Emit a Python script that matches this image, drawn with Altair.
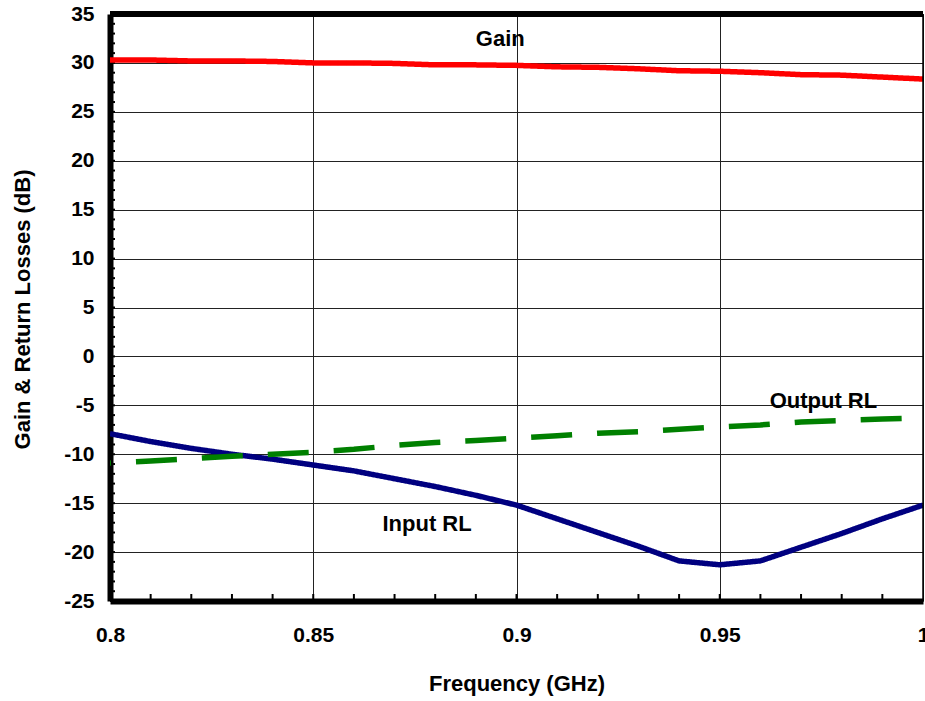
import altair as alt
import pandas as pd

# ---- data ----
freq = [0.80, 0.81, 0.82, 0.83, 0.84, 0.85, 0.86, 0.87, 0.88, 0.89, 0.90,
        0.91, 0.92, 0.93, 0.94, 0.95, 0.96, 0.97, 0.98, 0.99, 1.00]
gain = [30.3, 30.3, 30.2, 30.2, 30.15, 30.0, 30.0, 29.95, 29.8, 29.8, 29.75,
        29.6, 29.55, 29.4, 29.2, 29.15, 29.0, 28.8, 28.75, 28.55, 28.35]
input_rl = [-7.9, -8.7, -9.4, -10.0, -10.5, -11.1, -11.7, -12.5, -13.3, -14.2, -15.2,
            -16.6, -18.0, -19.4, -20.9, -21.3, -20.9, -19.5, -18.1, -16.6, -15.2]
output_rl = [-10.9, -10.7, -10.45, -10.2, -10.0, -9.8, -9.5, -9.1, -8.8, -8.6, -8.35,
             -8.1, -7.85, -7.7, -7.45, -7.2, -7.0, -6.7, -6.55, -6.4, -6.3]

series_names = ["Gain", "Input RL", "Output RL"]
series_colors = ["#ff0000", "#000080", "#008000"]

x_ticks = [0.8, 0.85, 0.9, 0.95, 1.0]
y_ticks = [-25, -20, -15, -10, -5, 0, 5, 10, 15, 20, 25, 30, 35]
x_minor = [0.81, 0.82, 0.83, 0.84, 0.85, 0.86, 0.87, 0.88, 0.89, 0.90,
           0.91, 0.92, 0.93, 0.94, 0.95, 0.96, 0.97, 0.98, 0.99]
y_minor = list(range(-25, 36))

label_text = ["Gain", "Output RL", "Input RL"]
label_x = [0.896, 0.9755, 0.878]
label_y = [32.4, -4.6, -17.1]

FONT = "Liberation Sans"

rows = []
for name, vals in zip(series_names, [gain, input_rl, output_rl]):
    for f, v in zip(freq, vals):
        rows.append({"freq": f, "value": v, "series": name})
df = pd.DataFrame(rows)

xscale = alt.Scale(domain=[0.8, 1.0], nice=False, zero=False)
yscale = alt.Scale(domain=[-25, 35], nice=False, zero=False)

xaxis = alt.Axis(values=x_ticks, format=".2~f", grid=True, gridColor="#222222", gridWidth=1,
                 ticks=False, domainWidth=6, domainColor="black",
                 labelFont=FONT, labelFontSize=21, labelFontWeight="bold", labelColor="black",
                 labelPadding=23, labelFlush=False,
                 title="Frequency (GHz)", titleFont=FONT, titleFontSize=22, titleFontWeight="bold",
                 titleColor="black", titlePadding=28)
yaxis = alt.Axis(values=y_ticks, grid=True, gridColor="#222222", gridWidth=1,
                 ticks=False, domainWidth=6, domainColor="black",
                 labelExpr="'' + datum.value",
                 labelFont=FONT, labelFontSize=21, labelFontWeight="bold", labelColor="black",
                 labelPadding=16,
                 title="Gain & Return Losses (dB)", titleFont=FONT, titleFontSize=22,
                 titleFontWeight="bold", titleColor="black",
                 titleX=-88, titleY=295, titleAngle=270, titleBaseline="middle", titleAlign="center")

lines = alt.Chart(df).mark_line(strokeWidth=5.5, clip=True, strokeDashOffset=40).encode(
    x=alt.X("freq:Q", scale=xscale, axis=xaxis),
    y=alt.Y("value:Q", scale=yscale, axis=yaxis),
    color=alt.Color("series:N", scale=alt.Scale(domain=series_names, range=series_colors), legend=None),
    strokeDash=alt.StrokeDash("series:N",
                              scale=alt.Scale(domain=series_names, range=[[1, 0], [1, 0], [41, 25]]),
                              legend=None),
    detail="series:N",
)

xm = alt.Chart(pd.DataFrame({"v": x_minor})).mark_rule(color="black", strokeWidth=2).encode(
    x=alt.X("v:Q", scale=xscale), y=alt.value(587), y2=alt.value(580))
ym = alt.Chart(pd.DataFrame({"v": y_minor})).mark_rule(color="black", strokeWidth=2).encode(
    y=alt.Y("v:Q", scale=yscale), x=alt.value(0), x2=alt.value(5))

top = alt.Chart(pd.DataFrame({"v": [35]})).mark_rule(color="black", strokeWidth=6).encode(
    y=alt.Y("v:Q", scale=yscale))
right = alt.Chart(pd.DataFrame({"v": [1.0]})).mark_rule(color="black", strokeWidth=1.5).encode(
    x=alt.X("v:Q", scale=xscale))

labels = alt.Chart(pd.DataFrame({"t": label_text, "x": label_x, "y": label_y})).mark_text(
    font=FONT, fontSize=22, fontWeight="bold", color="black", align="center", baseline="middle"
).encode(x=alt.X("x:Q", scale=xscale), y=alt.Y("y:Q", scale=yscale), text="t:N")

chart = alt.layer(xm, ym, lines, right, top, labels).properties(
    width=813, height=587,
    autosize=alt.AutoSizeParams(type="none"),
    padding={"left": 110, "top": 14, "right": 2, "bottom": 100},
    background="white",
).configure_view(stroke=None)

chart.save("out.html", embed_options={"renderer": "svg", "actions": False})
